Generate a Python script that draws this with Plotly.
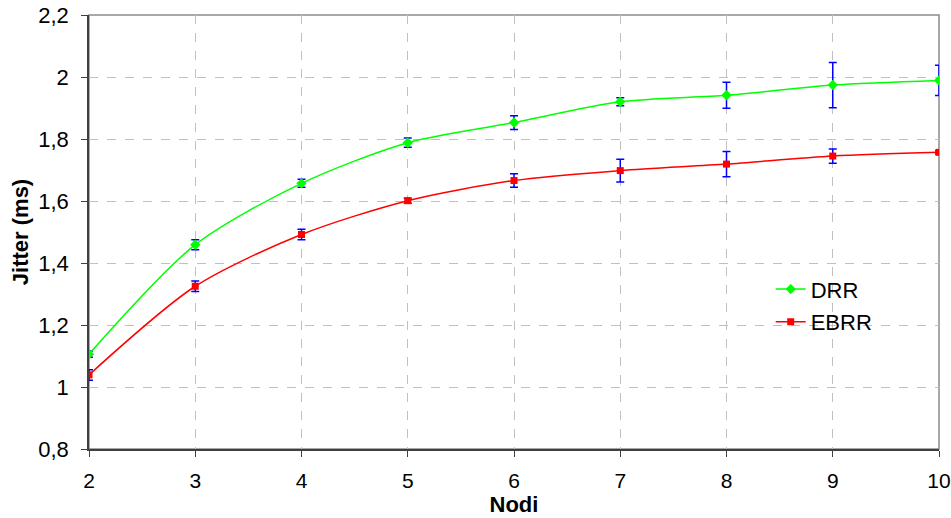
import plotly.graph_objects as go

nodi = [2, 3, 4, 5, 6, 7, 8, 9, 10]
drr = [1.106, 1.459, 1.657, 1.788, 1.853, 1.920, 1.941, 1.974, 1.989]
drr_err = [0.010, 0.016, 0.013, 0.015, 0.022, 0.013, 0.042, 0.073, 0.049]
ebrr = [1.039, 1.325, 1.492, 1.601, 1.666, 1.698, 1.719, 1.745, 1.757]
ebrr_err = [0.017, 0.017, 0.017, 0.008, 0.022, 0.037, 0.041, 0.023, 0.005]

y_ticks = [0.8, 1.0, 1.2, 1.4, 1.6, 1.8, 2.0, 2.2]
y_labels = ["0,8", "1", "1,2", "1,4", "1,6", "1,8", "2", "2,2"]

fig = go.Figure()
fig.add_trace(go.Scatter(
    x=nodi, y=drr, name="DRR", mode="lines+markers", legendgroup="a",
    line=dict(color="#00ff00", width=1.5, shape="spline", smoothing=0.8),
    marker=dict(symbol="diamond", size=8, color="#00ff00"),
    error_y=dict(type="data", array=drr_err, color="#0000ff", thickness=1.5, width=4),
))
fig.add_trace(go.Scatter(
    x=nodi, y=ebrr, name="EBRR", mode="lines+markers", legendgroup="b",
    line=dict(color="#ff0000", width=1.5, shape="spline", smoothing=0.8),
    marker=dict(symbol="square", size=7, color="#ff0000"),
    error_y=dict(type="data", array=ebrr_err, color="#0000ff", thickness=1.5, width=4),
))

fig.add_shape(type="rect", xref="x domain", yref="y domain", x0=0, x1=1, y0=0, y1=1,
              line=dict(color="#8c8c8c", width=1.5), layer="below")

font_family = "Liberation Sans, Arial, sans-serif"
fig.update_layout(
    width=951, height=518,
    margin=dict(l=89, r=12, t=15, b=69, autoexpand=False),
    paper_bgcolor="white", plot_bgcolor="white",
    font=dict(family=font_family, size=22, color="black"),
    showlegend=True,
    legend=dict(x=0.802, y=0.33, xanchor="left", yanchor="middle",
                bgcolor="rgba(0,0,0,0)", font=dict(size=22),
                traceorder="grouped", tracegroupgap=1),
    xaxis=dict(
        range=[2, 10], tickvals=nodi, ticktext=[str(n) for n in nodi],
        tickfont=dict(size=21),
        title=dict(text="<b>Nodi</b>", font=dict(size=22), standoff=0),
        showgrid=True, gridcolor="#c0c0c0", griddash="dash", gridwidth=1,
        showline=True, linecolor="#404040", linewidth=1.5, automargin=False,
        ticks="outside", ticklen=6, tickcolor="#404040", zeroline=False,
        ticklabelstandoff=6, ticklabeloverflow="allow",
    ),
    yaxis=dict(
        range=[0.8, 2.2], tickvals=y_ticks, ticktext=y_labels,
        title=dict(text="<b>Jitter (ms)</b>", font=dict(size=22), standoff=4),
        showgrid=True, gridcolor="#c0c0c0", griddash="dash", gridwidth=1,
        showline=True, linecolor="#404040", linewidth=1.5, automargin=False,
        ticks="outside", ticklen=6, tickcolor="#404040", zeroline=False,
        ticklabelstandoff=8, ticklabeloverflow="allow",
    ),
)

fig.write_html("out.html")
